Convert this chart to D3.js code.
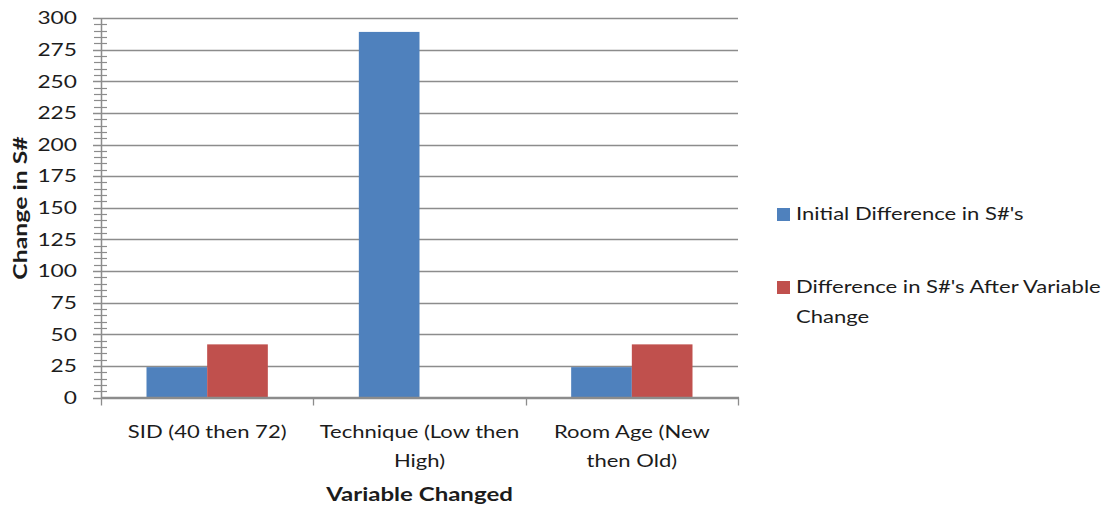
<!DOCTYPE html>
<html>
<head>
<meta charset="utf-8">
<script src="https://cdn.jsdelivr.net/npm/d3@7"></script>
<style>
  html, body { margin: 0; padding: 0; background: #fff; }
  svg text { font-family: Lato, "Open Sans", sans-serif; fill: #1c1c1c; }
</style>
</head>
<body>
<svg id="chart" width="1112" height="508"></svg>
<script>
// Categories (each label split into its display lines)
const categories = ["SID (40 then 72)", "Technique (Low then High)", "Room Age (New then Old)"];
const categoryLines = [["SID (40 then 72)"], ["Technique (Low then", "High)"], ["Room Age (New", "then Old)"]];
const seriesNames = ["Initial Difference in S#'s", "Difference in S#'s After Variable Change"];
const legendLines = [["Initial Difference in S#'s"], ["Difference in S#'s After Variable", "Change"]];
const initialDiff = [24, 289, 24];
const afterChange = [42, 0, 42];
const yTicks = [0, 25, 50, 75, 100, 125, 150, 175, 200, 225, 250, 275, 300];
const colors = ["#4F81BD", "#C0504D"];

const svg = d3.select("#chart");
const plotLeft = 101, plotRight = 738, plotTop = 18, plotBottom = 397.5;
const textStretch = 1.26;   // wide label face

const x = d3.scaleBand().domain(categories).range([plotLeft, plotRight]).paddingInner(0).paddingOuter(0);
const y = d3.scaleLinear().domain([0, 300]).range([plotBottom, plotTop]);
// two bars per group, gap between groups 1.5 bar widths
const barW = x.bandwidth() / 3.5;
const groupOffset = (x.bandwidth() - 2 * barW) / 2;

const gridColor = "#8c8c8c";

// draws a (possibly multi-line) label, horizontally widened around its anchor
function label(parent, tx, ty, lines, opts = {}) {
  const g = parent.append("g")
    .attr("transform", `translate(${tx},${ty})${opts.rotate ? ` rotate(${opts.rotate})` : ""} scale(${opts.stretch || textStretch},1)`);
  const t = g.append("text")
    .attr("text-anchor", opts.anchor || "start")
    .style("font-size", (opts.size || 17.5) + "px")
    .style("font-weight", opts.bold ? "bold" : "normal");
  if (opts.dy) t.attr("dy", opts.dy);
  lines.forEach((ln, k) => {
    t.append("tspan").attr("x", 0).attr("y", k * (opts.lineHeight || 29)).text(ln);
  });
  return g;
}

// horizontal gridlines
svg.append("g").selectAll("line").data(yTicks).join("line")
  .attr("x1", plotLeft - 8).attr("x2", plotRight)
  .attr("y1", d => Math.round(y(d)) + 0.5).attr("y2", d => Math.round(y(d)) + 0.5)
  .attr("stroke", gridColor).attr("stroke-width", 1.3);

// minor ticks every 5
const minor = d3.range(0, 301, 5).filter(v => v % 25 !== 0);
svg.append("g").selectAll("line").data(minor).join("line")
  .attr("x1", plotLeft - 7).attr("x2", plotLeft + 6)
  .attr("y1", d => Math.round(y(d)) + 0.5).attr("y2", d => Math.round(y(d)) + 0.5)
  .attr("stroke", gridColor).attr("stroke-width", 1.2);

// y axis line
svg.append("line").attr("x1", plotLeft + 0.5).attr("x2", plotLeft + 0.5).attr("y1", plotTop).attr("y2", plotBottom + 1)
  .attr("stroke", gridColor).attr("stroke-width", 1.5);

// bars
const series = [initialDiff, afterChange];
series.forEach((vals, si) => {
  svg.append("g").selectAll("rect").data(categories).join("rect")
    .attr("x", c => x(c) + groupOffset + si * barW)
    .attr("y", (c, i) => y(vals[i]))
    .attr("width", barW)
    .attr("height", (c, i) => y(0) - y(vals[i]))
    .attr("fill", colors[si]);
});

// x axis baseline and category ticks
svg.append("line").attr("x1", plotLeft).attr("x2", plotRight + 1).attr("y1", plotBottom).attr("y2", plotBottom)
  .attr("stroke", gridColor).attr("stroke-width", 1.5);
const bounds = categories.map(c => x(c)).concat([plotRight]);
svg.append("g").selectAll("line").data(bounds).join("line")
  .attr("x1", d => Math.round(d) + 0.5).attr("x2", d => Math.round(d) + 0.5)
  .attr("y1", plotBottom).attr("y2", plotBottom + 8)
  .attr("stroke", gridColor).attr("stroke-width", 1.3);

// y tick labels
yTicks.forEach(v => {
  label(svg, plotLeft - 24, y(v), [String(v)], { anchor: "end", dy: "0.36em", stretch: 1.3 });
});

// category labels
categories.forEach((c, i) => {
  label(svg, x(c) + x.bandwidth() / 2, 438, categoryLines[i], { anchor: "middle" });
});

// axis titles
label(svg, (plotLeft + plotRight) / 2, 501, ["Variable Changed"], { anchor: "middle", bold: true, size: 18.5, stretch: 1.3 });
label(svg, 27, 208, ["Change in S#"], { anchor: "middle", bold: true, size: 18.5, stretch: 1.34, rotate: -90 });

// legend
const legendY = [214, 287];
seriesNames.forEach((n, i) => {
  svg.append("rect").attr("x", 777).attr("y", legendY[i] - 6).attr("width", 13).attr("height", 13).attr("fill", colors[i]);
  label(svg, 796, legendY[i] + 6, legendLines[i], { lineHeight: 30 });
});
</script>
</body>
</html>
